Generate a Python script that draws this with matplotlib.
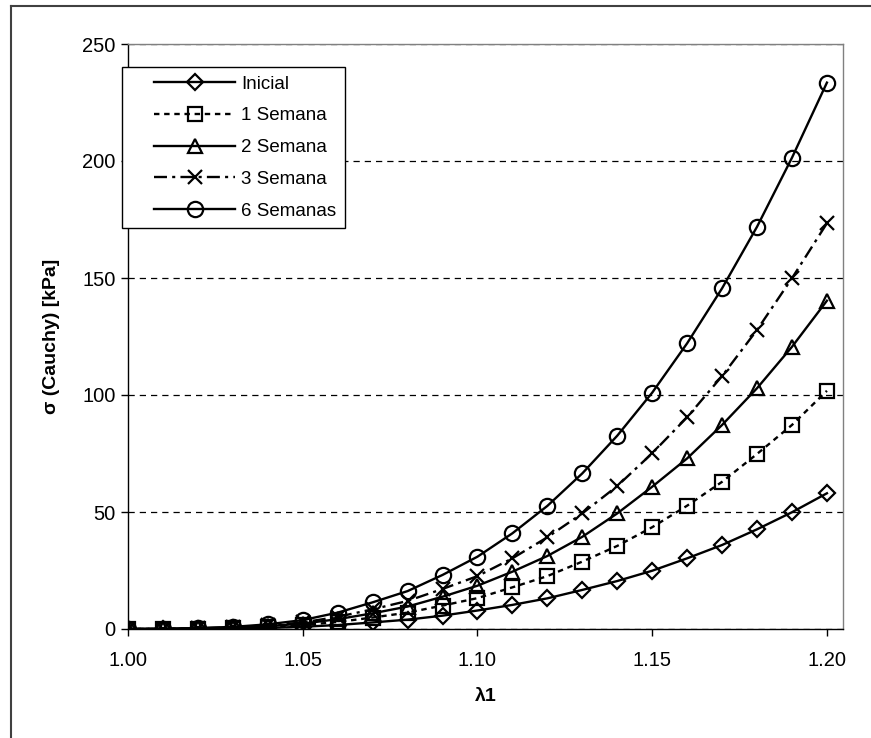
import matplotlib
matplotlib.use("Agg")
import matplotlib.pyplot as plt
from matplotlib.lines import Line2D
from matplotlib.legend_handler import HandlerLine2D

plt.rcParams['font.family'] = ['Liberation Sans', 'DejaVu Sans']

# Stretch ratio (lambda 1)
lam = [1.00, 1.01, 1.02, 1.03, 1.04, 1.05, 1.06, 1.07, 1.08, 1.09, 1.10,
       1.11, 1.12, 1.13, 1.14, 1.15, 1.16, 1.17, 1.18, 1.19, 1.20]

# Cauchy stress [kPa] per time point
inicial = [0, 0.03, 0.1, 0.23, 0.45, 0.95, 1.7, 2.8, 4.0, 5.7, 7.9,
           10.3, 13.1, 16.7, 20.5, 24.9, 30.2, 35.9, 42.6, 49.9, 58.0]
semana1 = [0, 0.04, 0.17, 0.4, 0.85, 1.7, 3.0, 4.9, 7.0, 10.0, 13.2,
           17.8, 22.6, 28.8, 35.5, 43.5, 52.7, 62.9, 74.8, 87.2, 101.8]
semana2 = [0, 0.06, 0.25, 0.55, 1.2, 2.3, 4.2, 6.7, 9.6, 13.8, 18.5,
           24.5, 31.2, 39.4, 49.4, 60.8, 72.9, 87.2, 102.9, 120.6, 140.3]
semana3 = [0, 0.07, 0.3, 0.7, 1.5, 2.8, 5.2, 8.4, 12.0, 17.1, 22.6,
           30.2, 39.2, 49.4, 61.1, 75.1, 90.5, 108.1, 127.8, 149.9, 173.4]
semana6 = [0, 0.1, 0.4, 0.9, 2.0, 3.8, 7.0, 11.4, 16.2, 23.1, 30.9,
           40.9, 52.6, 66.5, 82.6, 101.0, 122.1, 145.6, 171.9, 201.4, 233.5]

labels = ["Inicial", "1 Semana", "2 Semana", "3 Semana", "6 Semanas"]
x_ticks = [1.00, 1.05, 1.10, 1.15, 1.20]
y_ticks = [0, 50, 100, 150, 200, 250]

W, H = 871, 738
fig = plt.figure(figsize=(W / 100, H / 100), dpi=100)
ax = fig.add_axes([128 / W, 1 - 629 / H, (843 - 128) / W, (629 - 44) / H])

series = [
    (inicial, dict(marker='D', ms=8.5, ls='-')),
    (semana1, dict(marker='s', ms=10, ls=(0, (2.3, 2.0)))),
    (semana2, dict(marker='^', ms=10.5, ls='-')),
    (semana3, dict(marker='x', ms=10, ls=(0, (5.5, 2.2, 1.3, 2.2)))),
    (semana6, dict(marker='o', ms=11, ls='-')),
]
for (vals, st), lab in zip(series, labels):
    ax.plot(lam, vals, color='black', lw=1.7, mfc='none', mec='black',
            mew=1.6, label=lab, zorder=3, **st)

ax.set_xlim(1.0, 1.2046)
ax.set_ylim(0, 250)
ax.set_xticks(x_ticks)
ax.set_xticklabels([f"{v:.2f}" for v in x_ticks])
ax.set_yticks(y_ticks)
ax.tick_params(axis='both', direction='out', length=5, width=1, labelsize=14.5,
               color='black')
ax.tick_params(axis='x', pad=11)
ax.tick_params(axis='y', pad=4)

ax.yaxis.grid(True, color='black', ls=(0, (5, 4)), lw=0.9)
ax.set_axisbelow(True)

for side in ('top', 'right'):
    ax.spines[side].set_color('#808080')
    ax.spines[side].set_linewidth(1)
for side in ('left', 'bottom'):
    ax.spines[side].set_color('black')
    ax.spines[side].set_linewidth(1)

ax.set_ylabel("σ (Cauchy) [kPa]", fontsize=14, fontweight='bold', labelpad=16)
ax.set_xlabel("λ1", fontsize=14, fontweight='bold', labelpad=13)

leg = ax.legend(loc='upper left', bbox_to_anchor=(122 / W, 1 - 67 / H),
                bbox_transform=fig.transFigure, borderaxespad=0,
                fancybox=False, framealpha=1, edgecolor='black',
                fontsize=13.5, handlelength=5.6, handletextpad=0.3,
                labelspacing=0.78, borderpad=0.45,
                handler_map={Line2D: HandlerLine2D(xpad=1.25)})
leg.get_frame().set_linewidth(1)

# outer chart border (left and top edges)
fig.add_artist(Line2D([11 / W, 11 / W], [0, 1 - 6 / H], transform=fig.transFigure,
                      color='#404040', lw=1.5))
fig.add_artist(Line2D([11 / W, 1], [1 - 6 / H, 1 - 6 / H], transform=fig.transFigure,
                      color='#404040', lw=1.5))

fig.savefig("out.png", dpi=100)
